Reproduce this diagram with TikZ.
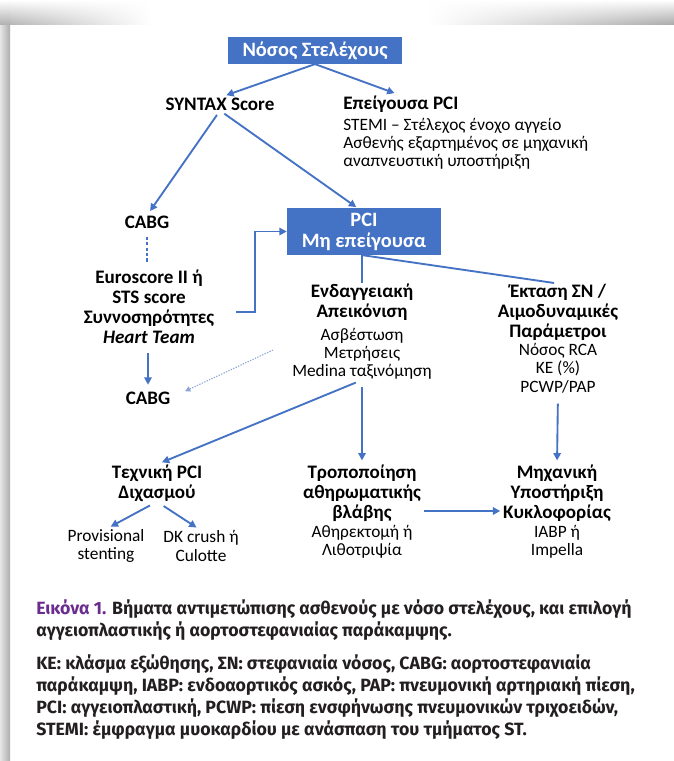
\documentclass[tikz,border=0pt]{standalone}
\usepackage{fontspec}
\setmainfont{Carlito}
\newfontfamily\capfont{Fira Sans}
\usetikzlibrary{arrows.meta,positioning,calc,fadings}
\definecolor{msBlue}{RGB}{68,114,196}
\definecolor{hintBlue}{RGB}{140,165,215}
\definecolor{capPurple}{RGB}{106,44,142}
\definecolor{capText}{RGB}{35,31,32}
\tikzfading[name=fadeout east, left color=transparent!0, right color=transparent!100]
\tikzfading[name=fadeout west, left color=transparent!100, right color=transparent!0]
\tikzset{
  conn/.style={-{Triangle[length=5.5pt,width=5.5pt]}, line width=1.4pt, msBlue},
  plainln/.style={line width=1.4pt, msBlue},
  dashln/.style={line width=1pt, msBlue, dash pattern=on 2.5pt off 1.6pt},
  hintln/.style={-{Triangle[length=4pt,width=4pt]}, line width=0.8pt, hintBlue, dash pattern=on 1pt off 1pt},
  bluebox/.style={fill=msBlue, text=white, font=\bfseries\fontsize{15.3}{15.8}\selectfont, align=center, inner sep=0pt},
  headtxt/.style={font=\bfseries\fontsize{14.3}{15}\selectfont, align=center, inner sep=0pt},
  detailtxt/.style={font=\fontsize{13}{13.7}\selectfont, align=center, inner sep=0pt},
  captxt/.style={font=\capfont\bfseries\fontsize{13.3}{16.5}\selectfont, text=capText, align=left, inner sep=0pt, anchor=base west},
}
\begin{document}
\begin{tikzpicture}[x=0.75pt, y=-0.75pt]
    \useasboundingbox (0,0) rectangle (674,761);
    % page and its shadow
    \fill[white] (0,0) rectangle (674,761);
    \shade[left color=gray!20, right color=gray!65] (0,24) rectangle (10,761);
    \shade[top color=white, bottom color=gray!60, path fading=fadeout east] (0,0) rectangle (150,24);
    \shade[top color=white, bottom color=gray!65, path fading=fadeout west] (430,0) rectangle (674,24);
    \shade[top color=white, bottom color=gray!60] (0,0) rectangle (10,24);
    % top of the tree
    \node[bluebox, minimum width=131pt, minimum height=20pt] (root) at (315,50.5) {Νόσος Στελέχους};
    \node[headtxt] (syntax) at (220,104) {SYNTAX Score};
    \node[headtxt, anchor=west] (urgent) at (343,104) {Επείγουσα PCI};
    \node[detailtxt, align=left, anchor=west] (urgentdet) at (343,144) {STEMI – Στέλεχος ένοχο αγγείο\\Ασθενής εξαρτημένος σε μηχανική\\αναπνευστική υποστήριξη};
    \node[headtxt] (cabgA) at (147,222) {CABG};
    \node[bluebox, minimum width=115.5pt, minimum height=35pt] (pci) at (364,231.5) {PCI\\Μη επείγουσα};
    % surgical branch
    \node[headtxt] (euro) at (149,307) {Euroscore II ή\\STS score\\Συννοσηρότητες\\\textit{Heart Team}};
    \node[headtxt] (cabgB) at (148,398) {CABG};
    % assessment before PCI
    \node[headtxt] (img) at (362,302) {Ενδαγγειακή\\Απεικόνιση};
    \node[detailtxt] (imgdet) at (362,354) {Ασβέστωση\\Μετρήσεις\\Medina ταξινόμηση};
    \node[headtxt] (extent) at (558,312) {Έκταση ΣΝ /\\Αιμοδυναμικές\\Παράμετροι};
    \node[detailtxt] (extdet) at (558,368) {Νόσος RCA\\ΚΕ (\%)\\PCWP/PAP};
    % strategy row
    \node[headtxt] (bifur) at (157,483) {Τεχνική PCI\\Διχασμού};
    \node[detailtxt] (prov) at (106,546) {Provisional\\stenting};
    \node[detailtxt] (dk) at (201,546) {DK crush ή\\Culotte};
    \node[headtxt] (lesion) at (362,493) {Τροποποίηση\\αθηρωματικής\\βλάβης};
    \node[detailtxt] (lesiondet) at (362,542) {Αθηρεκτομή ή\\Λιθοτριψία};
    \node[headtxt] (mcs) at (557,493) {Μηχανική\\Υποστήριξη\\Κυκλοφορίας};
    \node[detailtxt] (mcsdet) at (557,542) {IABP ή\\Impella};
    % free ends
    \coordinate (comorb) at (236,312);
    \coordinate (calcHint) at (273,350);
    \coordinate (lesionRow) at (0,511);
    % connectors
    \draw[conn, shorten >=5pt] (root.south) -- (syntax.north);
    \draw[conn, shorten >=5pt] (root.south) -- (urgent.north);
    \draw[conn, shorten <=4pt, shorten >=4pt] (syntax.south) -- (cabgA.north);
    \draw[conn, shorten <=4pt, shorten >=1pt] (syntax.south) -- ([xshift=-5pt]pci.north);
    \draw[dashln, shorten <=6pt, shorten >=6pt] (cabgA.south) -- (cabgA.south |- euro.north);
    \draw[conn] (comorb) -- ++(19,0) |- (pci.west);
    \draw[conn, shorten <=7pt, shorten >=5pt] (euro.south -| cabgB.north) -- (cabgB.north);
    \draw[hintln, shorten >=12pt] (calcHint) -- (cabgB.east);
    \draw[plainln] (img.north |- pci.south) -- (img.north);
    \draw[plainln, shorten >=3pt] (img.north |- pci.south) -- (extent.north);
    \draw[conn, shorten <=5pt, shorten >=3pt] (imgdet.south) -- (lesion.north);
    \draw[conn, shorten <=5pt, shorten >=4pt] (imgdet.south) -- (bifur.north);
    \draw[conn, shorten <=8pt, shorten >=3pt] (extdet.south) -- (mcs.north);
    \draw[conn, shorten <=6pt, shorten >=4pt] (bifur.south) -- (prov.north);
    \draw[conn, shorten <=6pt, shorten >=4pt] (bifur.south) -- (dk.north);
    \draw[conn, shorten <=2pt, shorten >=2pt] (lesion.east |- lesionRow) -- (mcs.west |- lesionRow);
    % caption (base anchor sits on the last line)
    \node[captxt] (capA) at (36,636) {\textcolor{capPurple}{Εικόνα 1.} Βήματα αντιμετώπισης ασθενούς με νόσο στελέχους, και επιλογή\\αγγειοπλαστικής ή αορτοστεφανιαίας παράκαμψης.};
    \node[captxt] (capB) at (36,735) {ΚΕ: κλάσμα εξώθησης, ΣΝ: στεφανιαία νόσος, CABG: αορτοστεφανιαία\\παράκαμψη, IABP: ενδοαορτικός ασκός, PAP: πνευμονική αρτηριακή πίεση,\\PCI: αγγειοπλαστική, PCWP: πίεση ενσφήνωσης πνευμονικών τριχοειδών,\\STEMI: έμφραγμα μυοκαρδίου με ανάσπαση του τμήματος ST.};
\end{tikzpicture}
\end{document}
